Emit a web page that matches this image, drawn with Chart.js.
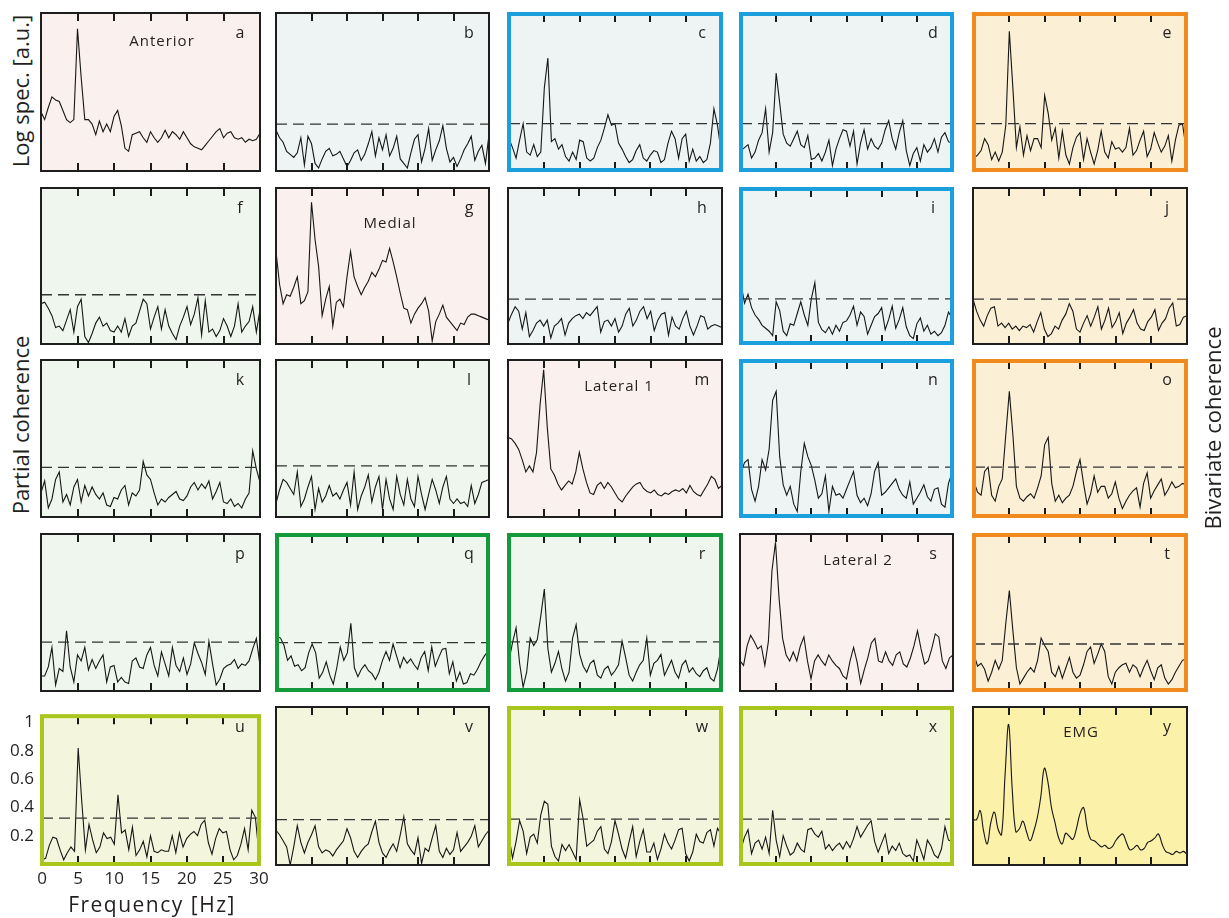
<!DOCTYPE html>
<html>
<head>
<meta charset="utf-8">
<title>Partial / bivariate coherence matrix</title>
<script src="https://cdn.jsdelivr.net/npm/chart.js@4.4.1/dist/chart.umd.min.js"></script>
<style>
  body { margin: 0; background: #fff; font-family: "Open Sans", "Noto Sans", sans-serif; }
  #fig { position: relative; width: 1229px; height: 918px; overflow: hidden; background: #fff; }
  #fig canvas { position: absolute; }
  .lbl { position: absolute; color: #231f20; white-space: nowrap; line-height: 1; }
  .ctr { transform: translate(-50%, -50%); }
  .rot { transform: translate(-50%, -50%) rotate(-90deg); }
</style>
</head>
<body>
<div id="fig"></div>
<script>
// ---- data -------------------------------------------------------------
// frequency axis shared by every panel [Hz]
const FREQ = [0,0.5,1,1.5,2,2.5,3,3.5,4,4.5,5,5.5,6,6.5,7,7.5,8,8.5,9,9.5,
  10,10.5,11,11.5,12,12.5,13,13.5,14,14.5,15,15.5,16,16.5,17,17.5,18,18.5,19,19.5,
  20,20.5,21,21.5,22,22.5,23,23.5,24,24.5,25,25.5,26,26.5,27,27.5,28,28.5,29,29.5,30];

const X_TICKS = [0, 5, 10, 15, 20, 25, 30];
const Y_TICKS = [0.2, 0.4, 0.6, 0.8, 1];

// row 1
const A = [0.39,0.34,0.42,0.49,0.47,0.46,0.40,0.34,0.32,0.34,
  0.94,0.62,0.34,0.34,0.31,0.24,0.33,0.26,0.31,0.26,
  0.36,0.40,0.30,0.15,0.13,0.24,0.25,0.26,0.22,0.19,
  0.26,0.22,0.19,0.22,0.27,0.22,0.26,0.24,0.21,0.26,
  0.22,0.18,0.16,0.15,0.14,0.17,0.20,0.23,0.26,0.28,
  0.22,0.25,0.26,0.22,0.21,0.22,0.19,0.21,0.20,0.21,0.25];
const B = [0.27,0.22,0.19,0.13,0.11,0.09,0.12,0.22,0.04,0.23,
  0.18,0.05,0.02,0.08,0.13,0.15,0.10,0.11,0.13,0.08,
  0.03,0.07,0.12,0.14,0.07,0.11,0.18,0.26,0.10,0.22,
  0.14,0.24,0.10,0.15,0.23,0.08,0.05,0.02,0.12,0.21,
  0.24,0.06,0.15,0.28,0.07,0.14,0.20,0.30,0.15,0.06,
  0.09,0.03,0.08,0.14,0.18,0.23,0.07,0.13,0.17,0.05,0.24];
const C = [0.21,0.15,0.08,0.20,0.31,0.12,0.10,0.17,0.09,0.12,
  0.55,0.75,0.19,0.21,0.14,0.17,0.09,0.06,0.12,0.07,
  0.20,0.19,0.08,0.06,0.08,0.15,0.20,0.28,0.37,0.30,
  0.31,0.18,0.14,0.09,0.05,0.07,0.13,0.17,0.08,0.06,
  0.10,0.13,0.12,0.05,0.07,0.18,0.26,0.21,0.08,0.21,
  0.24,0.06,0.14,0.06,0.09,0.05,0.07,0.18,0.41,0.30,0.13];
const D = [0.13,0.15,0.17,0.08,0.12,0.20,0.25,0.41,0.12,0.25,
  0.65,0.45,0.24,0.18,0.16,0.21,0.26,0.17,0.15,0.23,
  0.07,0.08,0.11,0.06,0.12,0.20,0.03,0.14,0.21,0.27,
  0.26,0.16,0.26,0.04,0.18,0.27,0.14,0.21,0.16,0.14,
  0.18,0.27,0.33,0.21,0.14,0.25,0.33,0.13,0.03,0.11,
  0.15,0.06,0.17,0.12,0.15,0.21,0.12,0.22,0.25,0.19,0.18];
const E = [0.08,0.10,0.13,0.21,0.17,0.07,0.12,0.06,0.12,0.30,
  0.93,0.55,0.15,0.29,0.10,0.23,0.13,0.21,0.21,0.15,
  0.50,0.38,0.20,0.28,0.08,0.26,0.10,0.04,0.15,0.22,
  0.25,0.07,0.21,0.12,0.04,0.13,0.26,0.12,0.08,0.19,
  0.14,0.15,0.12,0.15,0.28,0.10,0.13,0.20,0.26,0.09,
  0.14,0.25,0.18,0.12,0.16,0.23,0.06,0.20,0.30,0.31,0.15];

// row 2
const F = [0.27,0.28,0.24,0.19,0.11,0.12,0.09,0.16,0.23,0.08,
  0.25,0.30,0.05,0.01,0.07,0.14,0.18,0.12,0.14,0.09,
  0.08,0.12,0.08,0.17,0.05,0.12,0.14,0.22,0.30,0.27,
  0.10,0.18,0.25,0.10,0.23,0.12,0.07,0.03,0.12,0.18,
  0.25,0.13,0.20,0.31,0.06,0.29,0.08,0.10,0.05,0.09,
  0.17,0.12,0.05,0.12,0.27,0.08,0.12,0.15,0.25,0.08,0.23];
const G = [0.62,0.40,0.27,0.33,0.32,0.38,0.45,0.27,0.29,0.35,
  0.95,0.70,0.52,0.19,0.30,0.385,0.12,0.28,0.30,0.25,
  0.45,0.62,0.45,0.385,0.33,0.38,0.42,0.48,0.45,0.50,
  0.56,0.55,0.64,0.55,0.45,0.34,0.24,0.23,0.14,0.20,
  0.24,0.27,0.31,0.22,0.02,0.15,0.20,0.26,0.18,0.15,
  0.12,0.09,0.14,0.13,0.18,0.20,0.20,0.19,0.18,0.17,0.16];
const H = [0.14,0.20,0.25,0.22,0.10,0.21,0.05,0.09,0.14,0.16,
  0.12,0.16,0.04,0.12,0.14,0.17,0.06,0.14,0.17,0.19,
  0.20,0.17,0.21,0.19,0.22,0.25,0.08,0.15,0.16,0.12,
  0.17,0.08,0.12,0.20,0.24,0.12,0.16,0.22,0.25,0.17,
  0.22,0.09,0.16,0.20,0.21,0.06,0.18,0.12,0.10,0.17,
  0.22,0.12,0.06,0.12,0.19,0.18,0.10,0.12,0.13,0.12,0.11];
const I = [0.40,0.27,0.33,0.24,0.19,0.16,0.12,0.10,0.08,0.05,
  0.28,0.22,0.08,0.05,0.13,0.12,0.20,0.28,0.19,0.12,
  0.30,0.41,0.14,0.09,0.07,0.11,0.06,0.12,0.08,0.14,
  0.15,0.19,0.25,0.12,0.21,0.18,0.06,0.12,0.18,0.20,
  0.24,0.09,0.16,0.25,0.10,0.16,0.24,0.11,0.05,0.03,
  0.13,0.17,0.08,0.12,0.06,0.08,0.05,0.07,0.12,0.21,0.17];
const J = [0.30,0.22,0.16,0.12,0.19,0.24,0.25,0.12,0.14,0.11,
  0.14,0.10,0.12,0.09,0.12,0.11,0.13,0.08,0.15,0.21,
  0.10,0.05,0.07,0.12,0.10,0.16,0.20,0.27,0.22,0.10,
  0.08,0.14,0.19,0.12,0.18,0.25,0.10,0.16,0.24,0.11,
  0.15,0.21,0.07,0.14,0.18,0.23,0.14,0.10,0.09,0.15,
  0.18,0.23,0.09,0.14,0.17,0.24,0.275,0.12,0.13,0.18,0.19];

// row 3
const K = [0.16,0.24,0.06,0.12,0.25,0.30,0.10,0.15,0.08,0.20,
  0.25,0.10,0.21,0.14,0.20,0.15,0.12,0.16,0.08,0.07,
  0.13,0.12,0.18,0.21,0.08,0.16,0.14,0.18,0.37,0.28,
  0.25,0.16,0.08,0.12,0.10,0.13,0.15,0.17,0.12,0.11,
  0.14,0.20,0.23,0.18,0.22,0.19,0.24,0.12,0.17,0.23,
  0.10,0.09,0.12,0.07,0.09,0.06,0.12,0.16,0.44,0.32,0.23];
const L = [0.09,0.18,0.25,0.23,0.19,0.15,0.30,0.07,0.12,0.20,
  0.27,0.05,0.19,0.10,0.14,0.21,0.14,0.16,0.12,0.18,
  0.23,0.08,0.30,0.05,0.14,0.20,0.28,0.10,0.20,0.27,
  0.05,0.25,0.12,0.05,0.27,0.15,0.08,0.25,0.12,0.07,
  0.27,0.15,0.05,0.15,0.25,0.18,0.09,0.20,0.27,0.12,
  0.09,0.12,0.09,0.10,0.07,0.21,0.09,0.15,0.23,0.24,0.25];
const M = [0.53,0.52,0.49,0.45,0.38,0.30,0.34,0.30,0.43,0.75,
  0.98,0.60,0.32,0.28,0.22,0.18,0.21,0.24,0.22,0.30,
  0.43,0.32,0.23,0.16,0.15,0.21,0.23,0.19,0.23,0.20,
  0.16,0.12,0.10,0.14,0.17,0.20,0.22,0.23,0.19,0.17,
  0.16,0.18,0.15,0.14,0.16,0.15,0.17,0.18,0.17,0.19,
  0.16,0.21,0.17,0.15,0.14,0.18,0.22,0.27,0.25,0.19,0.21];
const N = [0.29,0.36,0.38,0.18,0.10,0.20,0.38,0.31,0.45,0.78,
  0.84,0.40,0.21,0.14,0.20,0.08,0.03,0.30,0.49,0.40,
  0.34,0.24,0.12,0.15,0.27,0.03,0.20,0.14,0.15,0.12,
  0.18,0.24,0.30,0.14,0.09,0.12,0.07,0.15,0.30,0.36,
  0.14,0.16,0.19,0.22,0.25,0.18,0.14,0.12,0.23,0.08,
  0.12,0.16,0.21,0.13,0.10,0.18,0.19,0.08,0.06,0.22,0.29];
const O = [0.23,0.16,0.14,0.30,0.33,0.14,0.10,0.20,0.25,0.55,
  0.84,0.55,0.20,0.12,0.10,0.13,0.15,0.12,0.19,0.27,
  0.48,0.53,0.22,0.10,0.14,0.09,0.12,0.14,0.20,0.30,
  0.38,0.22,0.08,0.15,0.27,0.16,0.20,0.20,0.12,0.15,
  0.23,0.12,0.05,0.10,0.14,0.17,0.19,0.06,0.22,0.29,
  0.12,0.17,0.21,0.25,0.14,0.18,0.23,0.19,0.20,0.22,0.21];

// row 4
const P = [0.10,0.10,0.16,0.29,0.04,0.15,0.13,0.40,0.16,0.06,
  0.24,0.20,0.29,0.14,0.21,0.15,0.20,0.24,0.06,0.16,
  0.17,0.06,0.09,0.06,0.05,0.20,0.22,0.16,0.15,0.24,
  0.29,0.17,0.10,0.26,0.18,0.10,0.29,0.17,0.13,0.22,
  0.11,0.18,0.32,0.25,0.19,0.11,0.33,0.18,0.04,0.08,
  0.15,0.17,0.18,0.21,0.15,0.18,0.17,0.20,0.28,0.35,0.17];
const Q = [0.36,0.35,0.30,0.20,0.23,0.16,0.17,0.13,0.15,0.25,
  0.31,0.25,0.08,0.12,0.19,0.10,0.04,0.15,0.29,0.20,
  0.25,0.45,0.15,0.09,0.14,0.17,0.13,0.11,0.07,0.12,
  0.20,0.26,0.20,0.31,0.23,0.15,0.22,0.18,0.21,0.17,
  0.14,0.22,0.26,0.13,0.29,0.16,0.22,0.275,0.28,0.11,
  0.19,0.06,0.12,0.04,0.05,0.11,0.10,0.14,0.19,0.23,0.26];
const R = [0.20,0.32,0.42,0.18,0.02,0.12,0.35,0.30,0.34,0.50,
  0.68,0.28,0.12,0.18,0.26,0.14,0.06,0.12,0.35,0.44,
  0.24,0.16,0.12,0.18,0.20,0.10,0.08,0.14,0.16,0.10,
  0.13,0.17,0.33,0.22,0.10,0.06,0.12,0.17,0.20,0.35,
  0.10,0.18,0.20,0.24,0.10,0.15,0.20,0.12,0.08,0.17,
  0.20,0.12,0.15,0.11,0.09,0.13,0.15,0.08,0.06,0.14,0.29];
const S = [0.20,0.17,0.30,0.37,0.33,0.28,0.30,0.17,0.33,0.80,
  0.99,0.62,0.35,0.24,0.20,0.26,0.20,0.30,0.36,0.20,
  0.08,0.20,0.24,0.20,0.17,0.24,0.20,0.17,0.15,0.10,
  0.08,0.20,0.29,0.19,0.05,0.14,0.22,0.32,0.35,0.20,
  0.19,0.26,0.20,0.17,0.24,0.26,0.18,0.16,0.22,0.30,
  0.40,0.28,0.18,0.20,0.28,0.38,0.36,0.20,0.15,0.22,0.24];
const T = [0.24,0.16,0.18,0.14,0.06,0.12,0.20,0.14,0.20,0.45,
  0.67,0.40,0.15,0.04,0.08,0.12,0.15,0.12,0.20,0.35,
  0.30,0.26,0.12,0.09,0.16,0.08,0.15,0.22,0.12,0.08,
  0.10,0.17,0.26,0.29,0.18,0.24,0.31,0.26,0.09,0.04,
  0.12,0.15,0.17,0.18,0.12,0.17,0.15,0.09,0.15,0.20,
  0.13,0.07,0.15,0.17,0.08,0.04,0.07,0.12,0.16,0.20,0.21];

// row 5
const U = [0.03,0.04,0.13,0.19,0.18,0.10,0.03,0.08,0.12,0.09,
  0.82,0.44,0.10,0.28,0.17,0.08,0.12,0.22,0.18,0.19,
  0.14,0.49,0.22,0.24,0.10,0.26,0.06,0.10,0.16,0.05,
  0.20,0.09,0.08,0.10,0.09,0.09,0.20,0.08,0.22,0.12,
  0.18,0.21,0.23,0.20,0.28,0.31,0.15,0.07,0.18,0.25,
  0.22,0.23,0.10,0.03,0.06,0.14,0.25,0.10,0.38,0.33,0.07];
const V = [0.23,0.20,0.16,0.12,0.00,0.12,0.26,0.15,0.08,0.15,
  0.20,0.26,0.12,0.08,0.10,0.09,0.06,0.10,0.13,0.16,
  0.24,0.18,0.09,0.05,0.09,0.12,0.14,0.22,0.29,0.15,
  0.08,0.05,0.10,0.14,0.09,0.20,0.32,0.14,0.10,0.07,
  0.18,0.01,0.11,0.09,0.18,0.26,0.09,0.05,0.11,0.07,
  0.10,0.215,0.09,0.12,0.15,0.19,0.26,0.12,0.16,0.20,0.23];
const W = [0.18,0.04,0.15,0.29,0.22,0.07,0.18,0.20,0.14,0.33,
  0.42,0.40,0.12,0.05,0.02,0.13,0.09,0.13,0.08,0.03,
  0.43,0.30,0.12,0.14,0.16,0.22,0.25,0.10,0.07,0.15,
  0.29,0.20,0.10,0.04,0.15,0.25,0.05,0.15,0.23,0.08,
  0.08,0.14,0.03,0.10,0.20,0.14,0.10,0.16,0.23,0.24,
  0.07,0.02,0.08,0.20,0.15,0.14,0.21,0.23,0.12,0.24,0.20];
const X = [0.10,0.18,0.23,0.07,0.14,0.16,0.10,0.18,0.07,0.36,
  0.16,0.05,0.19,0.12,0.06,0.08,0.14,0.10,0.08,0.23,
  0.24,0.20,0.18,0.22,0.10,0.13,0.09,0.12,0.14,0.10,
  0.15,0.11,0.17,0.25,0.18,0.22,0.26,0.29,0.15,0.08,
  0.14,0.20,0.07,0.12,0.09,0.14,0.07,0.05,0.06,0.02,
  0.16,0.10,0.03,0.16,0.12,0.06,0.04,0.10,0.25,0.16,0.15];
const Y = [0.30,0.30,0.36,0.22,0.14,0.28,0.35,0.24,0.20,0.60,
  0.93,0.50,0.22,0.24,0.29,0.22,0.16,0.22,0.31,0.45,
  0.64,0.55,0.38,0.28,0.18,0.14,0.21,0.19,0.17,0.24,
  0.34,0.38,0.25,0.17,0.16,0.14,0.12,0.13,0.11,0.12,
  0.16,0.19,0.205,0.15,0.10,0.11,0.13,0.10,0.11,0.15,
  0.16,0.18,0.205,0.14,0.09,0.08,0.07,0.09,0.08,0.09,0.07];

const SERIES = [A, B, C, D, E, F, G, H, I, J, K, L, M, N, O, P, Q, R, S, T, U, V, W, X, Y];
const LETTERS = ['a','b','c','d','e','f','g','h','i','j','k','l','m','n','o','p','q','r','s','t','u','v','w','x','y'];

// 95% confidence level per panel (null on the diagonal = log spectra)
const SIG_LEVEL = [null, 0.31, 0.31, 0.31, 0.31,
  0.33, null, 0.30, 0.30, 0.30,
  0.33, 0.34, null, 0.33, 0.33,
  0.325, 0.32, 0.325, null, 0.31,
  0.325, 0.30, 0.30, 0.30, null];

// channel names written inside the diagonal panels
const CHANNELS = ['Anterior', 'Medial', 'Lateral 1', 'Lateral 2', 'EMG'];

// ---- layout & style ---------------------------------------------------
const Y_MAX = 1.045;
const COL_EDGES = [[40, 261], [275, 490], [507, 723], [739, 954], [972, 1188]];
const ROW_EDGES = [[12, 172], [187, 345], [359, 518], [533, 692], [706, 866]];
const CHANNEL_POS = [[162, 40], [390, 222], [619, 385], [858, 559], [1081, 731]];

const FILLS = {
  pink:   '#faf0ee',
  blue:   '#eef3f3',
  green:  '#eff6ed',
  cream:  '#fbf0d6',
  lime:   '#f3f6dc',
  yellow: '#fcf1a9',
};
const FRAMES = {
  k: { color: '#1e1e1e', width: 2 },
  b: { color: '#1ca0dd', width: 4 },
  o: { color: '#f18a1d', width: 4 },
  g: { color: '#139a3b', width: 4 },
  y: { color: '#a8c61b', width: 4 },
};
const PANEL_FILL = ['pink','blue','blue','blue','cream',
  'green','pink','blue','blue','cream',
  'green','green','pink','blue','cream',
  'green','green','green','pink','cream',
  'lime','lime','lime','lime','yellow'];
const PANEL_FRAME = ['k','k','b','b','o',
  'k','k','k','b','k',
  'k','k','k','b','o',
  'k','g','g','k','o',
  'y','k','y','y','k'];

const TEXT = '#231f20';
const FONT = '"Open Sans", "Noto Sans", sans-serif';

// Background, inward ticks and coloured frame around the plot area
const framePlugin = {
  id: 'frame',
  beforeDraw(chart, args, opts) {
    const { ctx, chartArea: ca } = chart;
    const h = opts.width / 2;
    ctx.save();
    ctx.fillStyle = opts.fill;
    ctx.fillRect(ca.left - h, ca.top - h, ca.width + opts.width, ca.height + opts.width);
    ctx.restore();
  },
  afterDatasetsDraw(chart, args, opts) {
    const { ctx, chartArea: ca } = chart;
    const xs = chart.scales.x;
    ctx.save();
    ctx.strokeStyle = '#1a1a1a';
    ctx.lineWidth = 2;
    X_TICKS.slice(1, -1).forEach(v => {
      const x = Math.round(xs.getPixelForValue(v));
      ctx.beginPath();
      ctx.moveTo(x, ca.top);
      ctx.lineTo(x, ca.top + 8);
      ctx.moveTo(x, ca.bottom);
      ctx.lineTo(x, ca.bottom - 8);
      ctx.stroke();
    });
    ctx.strokeStyle = opts.color;
    ctx.lineWidth = opts.width;
    ctx.strokeRect(ca.left, ca.top, ca.width, ca.height);
    ctx.restore();
  },
};

const fig = document.getElementById('fig');

function addLabel(text, x, y, size, cls, extra) {
  const d = document.createElement('div');
  d.className = 'lbl ' + cls;
  d.textContent = text;
  d.style.left = x + 'px';
  d.style.top = y + 'px';
  d.style.fontSize = size + 'px';
  if (extra) Object.assign(d.style, extra);
  fig.appendChild(d);
}

SERIES.forEach((vals, k) => {
  const row = Math.floor(k / 5), col = k % 5;
  const [x0, x1] = COL_EDGES[col];
  const [y0, y1] = ROW_EDGES[row];
  const frame = FRAMES[PANEL_FRAME[k]];
  const half = frame.width / 2;
  const withAxes = (row === 4 && col === 0);   // only panel u carries tick labels

  // canvas box; panel u gets extra room for tick labels
  const box = withAxes
    ? { left: 0, top: y0 - 8, width: x1 + 19, height: (y1 - y0) + 42 }
    : { left: x0, top: y0, width: x1 - x0, height: y1 - y0 };

  const canvas = document.createElement('canvas');
  canvas.width = box.width;
  canvas.height = box.height;
  canvas.style.left = box.left + 'px';
  canvas.style.top = box.top + 'px';
  canvas.style.width = box.width + 'px';
  canvas.style.height = box.height + 'px';
  fig.appendChild(canvas);

  const datasets = [];
  const sig = SIG_LEVEL[k];
  if (sig !== null) {
    datasets.push({
      data: [{ x: 0, y: sig }, { x: 30, y: sig }],
      borderColor: '#333',
      borderWidth: 1.3,
      borderDash: [11, 6],
      pointRadius: 0,
    });
  }
  datasets.push({
    data: FREQ.map((f, i) => ({ x: f, y: vals[i] })),
    borderColor: '#161616',
    borderWidth: 1.1,
    pointRadius: 0,
    tension: LETTERS[k] === 'y' ? 0.4 : 0,
  });

  const tickFont = { family: FONT, size: 17 };
  const scales = withAxes ? {
    x: {
      type: 'linear', min: 0, max: 30,
      grid: { display: false, drawTicks: false },
      border: { display: false },
      ticks: { font: tickFont, color: TEXT, padding: 5, maxRotation: 0, autoSkip: false },
      afterBuildTicks: s => { s.ticks = X_TICKS.map(v => ({ value: v })); },
      afterFit: s => { s.height = box.height - (y1 - half - box.top); },
    },
    y: {
      min: 0, max: Y_MAX,
      grid: { display: false, drawTicks: false },
      border: { display: false },
      ticks: { font: tickFont, color: TEXT, padding: 8, callback: v => String(v) },
      afterBuildTicks: s => { s.ticks = Y_TICKS.map(v => ({ value: v })); },
      afterFit: s => { s.width = x0 + half; },
    },
  } : {
    x: { type: 'linear', min: 0, max: 30, display: false },
    y: { min: 0, max: Y_MAX, display: false },
  };

  const padding = withAxes
    ? { left: 0, top: (y0 + half) - box.top, right: box.width - (x1 - half), bottom: 0 }
    : { left: half, top: half, right: half, bottom: half };

  new Chart(canvas, {
    type: 'line',
    data: { datasets },
    options: {
      responsive: false,
      animation: false,
      events: [],
      layout: { padding },
      plugins: {
        legend: { display: false },
        tooltip: { enabled: false },
        frame: { fill: FILLS[PANEL_FILL[k]], color: frame.color, width: frame.width },
      },
      scales,
    },
    plugins: [framePlugin],
  });

  // panel letter, top-right corner
  addLabel(LETTERS[k], x1 - 21, y0 + 20, 16, 'ctr');
  if (row === col) {
    const [cx, cy] = CHANNEL_POS[row];
    addLabel(CHANNELS[row], cx, cy, 15, 'ctr', { letterSpacing: '1px' });
  }
});

// axis titles
addLabel('Log spec. [a.u.]', 20, 91, 22, 'rot');
addLabel('Partial coherence', 20, 425, 22, 'rot');
addLabel('Bivariate coherence', 1212, 428, 22, 'rot');
addLabel('Frequency [Hz]', 152, 904, 21, 'ctr', { letterSpacing: '1.5px' });
</script>
</body>
</html>
